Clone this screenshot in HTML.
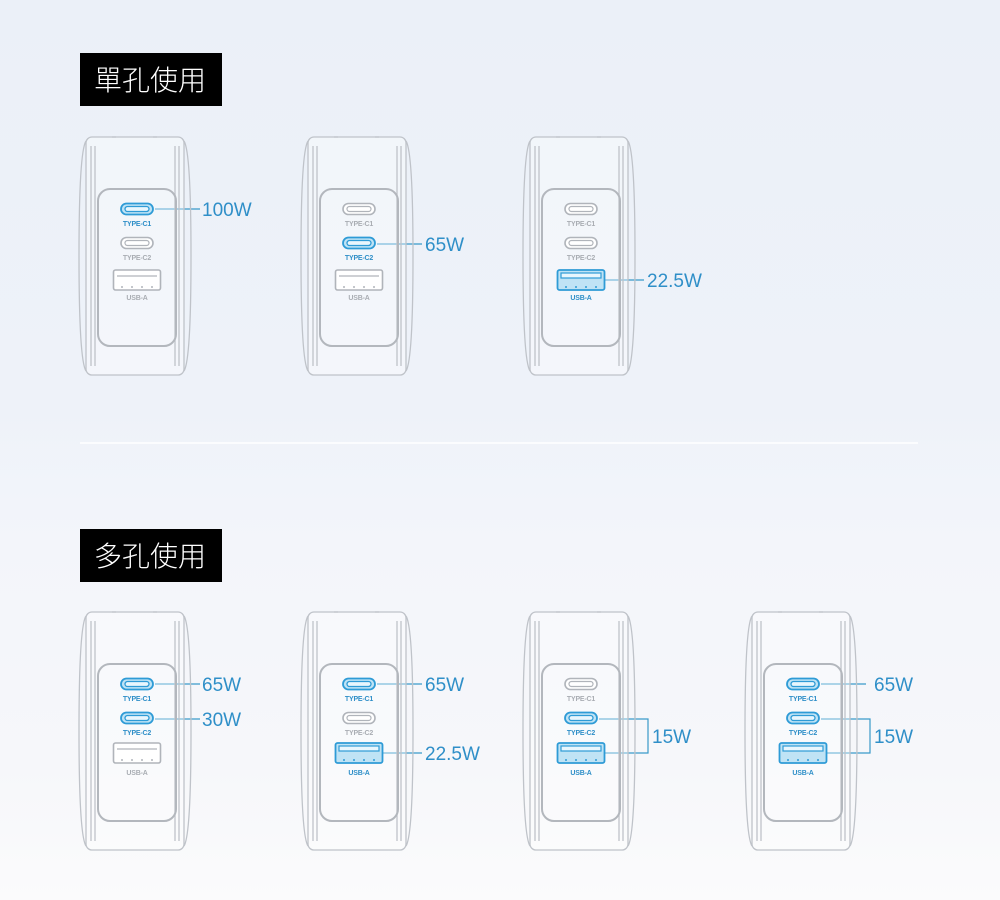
<!DOCTYPE html>
<html><head><meta charset="utf-8"><style>
html,body{margin:0;padding:0;width:1000px;height:900px;overflow:hidden}
body{background:linear-gradient(#ebf0f8 0%,#eef2f9 45%,#f3f5fa 60%,#f6f7fa 85%,#fbfbfc 100%)}
svg{display:block}
.lb{font-family:"Liberation Sans",sans-serif;font-size:7px;text-anchor:middle;font-weight:bold;fill:#a9adb3;letter-spacing:-0.2px}
.lb.on{fill:#2f8fc8}
.w{font-family:"Liberation Sans",sans-serif;font-size:19px;fill:#2f8fc8}
.t{font-family:"Liberation Sans","Noto Sans CJK TC",sans-serif;font-size:28px;fill:#fff;font-weight:300}
</style></head><body>
<svg width="1000" height="900" viewBox="0 0 1000 900" xmlns="http://www.w3.org/2000/svg">
<defs>
<g id="body" fill="none" stroke="#bfc3c9" stroke-width="1.3">
 <rect x="86" y="137" width="98" height="238" rx="6" fill="rgba(255,255,255,0.35)"/>
 <path d="M86,141 Q79,152 79,256 Q79,360 86,371"/>
 <path d="M184,141 Q191,152 191,256 Q191,360 184,371"/>
 <line x1="91" y1="146" x2="91" y2="366"/><line x1="95" y1="146" x2="95" y2="366"/>
 <line x1="179" y1="146" x2="179" y2="366"/><line x1="175" y1="146" x2="175" y2="366"/>
 <line x1="112" y1="137" x2="116" y2="137"/><line x1="153" y1="137" x2="157" y2="137"/>
 <rect x="98" y="189" width="78" height="157" rx="12" stroke="#b3b7bd" stroke-width="2"/>
</g>
<g id="cg" fill="none" stroke="#b0b4ba" stroke-width="1.6">
 <rect x="-16" y="-5.5" width="32" height="11" rx="5.5" fill="#fff"/>
 <rect x="-12" y="-2.5" width="24" height="5" rx="2.5" stroke-width="1.2"/>
</g>
<g id="cb" fill="none" stroke="#2e9bd6" stroke-width="1.8">
 <rect x="-16" y="-5.5" width="32" height="11" rx="5.5" fill="#bfe3f5"/>
 <rect x="-12" y="-2.5" width="24" height="5" rx="2.5" stroke-width="1.3" fill="#e8f6fd"/>
</g>
<g id="ag" fill="none" stroke="#b0b4ba" stroke-width="1.6">
 <rect x="-23.5" y="-10" width="47" height="20" rx="2" fill="#fff"/>
 <line x1="-20" y1="-4" x2="20" y2="-4" stroke-width="1.2"/>
 <g stroke-width="1.5"><line x1="-15" y1="6" x2="-15" y2="8"/><line x1="-5" y1="6" x2="-5" y2="8"/><line x1="5" y1="6" x2="5" y2="8"/><line x1="15" y1="6" x2="15" y2="8"/></g>
</g>
<g id="ab" fill="none" stroke="#2e9bd6" stroke-width="1.8">
 <rect x="-23.5" y="-10" width="47" height="20" rx="2" fill="#bfe3f5"/>
 <rect x="-20" y="-7" width="40" height="5" fill="#e8f6fd" stroke-width="1.2"/>
 <g stroke-width="1.5"><line x1="-15" y1="6" x2="-15" y2="8"/><line x1="-5" y1="6" x2="-5" y2="8"/><line x1="5" y1="6" x2="5" y2="8"/><line x1="15" y1="6" x2="15" y2="8"/></g>
</g>
</defs>

<rect x="80" y="53" width="142" height="53" fill="#000"/>
<text class="t" x="94" y="90">單孔使用</text>
<rect x="80" y="529" width="142" height="53" fill="#000"/>
<text class="t" x="94" y="566">多孔使用</text>
<line x1="80" y1="443" x2="918" y2="443" stroke="#fff" stroke-width="1.5"/>

<g stroke="#3a9ac9" stroke-width="1.2" fill="none">
 <line x1="155" y1="209" x2="200" y2="209"/>
 <line x1="377" y1="244" x2="422" y2="244"/>
 <line x1="605" y1="280" x2="644" y2="280"/>
 <line x1="155" y1="684" x2="200" y2="684"/>
 <line x1="155" y1="719" x2="200" y2="719"/>
 <line x1="377" y1="684" x2="422" y2="684"/>
 <line x1="383" y1="753" x2="422" y2="753"/>
 <polyline points="599,719 648,719 648,753 605,753"/>
 <polyline points="821,719 870,719 870,753 827,753"/>
 <line x1="821" y1="684" x2="866" y2="684"/>
</g>

<g>
 <use href="#body"/>
 <use href="#cb" x="137" y="209"/><use href="#cg" x="137" y="243"/><use href="#ag" x="137" y="280"/>
 <text class="lb on" x="137" y="226">TYPE-C1</text><text class="lb" x="137" y="260">TYPE-C2</text><text class="lb" x="137" y="300">USB-A</text>
</g>
<g transform="translate(222,0)">
 <use href="#body"/>
 <use href="#cg" x="137" y="209"/><use href="#cb" x="137" y="243"/><use href="#ag" x="137" y="280"/>
 <text class="lb" x="137" y="226">TYPE-C1</text><text class="lb on" x="137" y="260">TYPE-C2</text><text class="lb" x="137" y="300">USB-A</text>
</g>
<g transform="translate(444,0)">
 <use href="#body"/>
 <use href="#cg" x="137" y="209"/><use href="#cg" x="137" y="243"/><use href="#ab" x="137" y="280"/>
 <text class="lb" x="137" y="226">TYPE-C1</text><text class="lb" x="137" y="260">TYPE-C2</text><text class="lb on" x="137" y="300">USB-A</text>
</g>
<text class="w" x="202" y="216">100W</text>
<text class="w" x="425" y="251">65W</text>
<text class="w" x="647" y="287">22.5W</text>

<g transform="translate(0,475)">
 <use href="#body"/>
 <use href="#cb" x="137" y="209"/><use href="#cb" x="137" y="243"/><use href="#ag" x="137" y="278"/>
 <text class="lb on" x="137" y="226">TYPE-C1</text><text class="lb on" x="137" y="260">TYPE-C2</text><text class="lb" x="137" y="300">USB-A</text>
</g>
<g transform="translate(222,475)">
 <use href="#body"/>
 <use href="#cb" x="137" y="209"/><use href="#cg" x="137" y="243"/><use href="#ab" x="137" y="278"/>
 <text class="lb on" x="137" y="226">TYPE-C1</text><text class="lb" x="137" y="260">TYPE-C2</text><text class="lb on" x="137" y="300">USB-A</text>
</g>
<g transform="translate(444,475)">
 <use href="#body"/>
 <use href="#cg" x="137" y="209"/><use href="#cb" x="137" y="243"/><use href="#ab" x="137" y="278"/>
 <text class="lb" x="137" y="226">TYPE-C1</text><text class="lb on" x="137" y="260">TYPE-C2</text><text class="lb on" x="137" y="300">USB-A</text>
</g>
<g transform="translate(666,475)">
 <use href="#body"/>
 <use href="#cb" x="137" y="209"/><use href="#cb" x="137" y="243"/><use href="#ab" x="137" y="278"/>
 <text class="lb on" x="137" y="226">TYPE-C1</text><text class="lb on" x="137" y="260">TYPE-C2</text><text class="lb on" x="137" y="300">USB-A</text>
</g>
<text class="w" x="202" y="691">65W</text>
<text class="w" x="202" y="726">30W</text>
<text class="w" x="425" y="691">65W</text>
<text class="w" x="425" y="760">22.5W</text>
<text class="w" x="652" y="743">15W</text>
<text class="w" x="874" y="691">65W</text>
<text class="w" x="874" y="743">15W</text>
</svg>
</body></html>
